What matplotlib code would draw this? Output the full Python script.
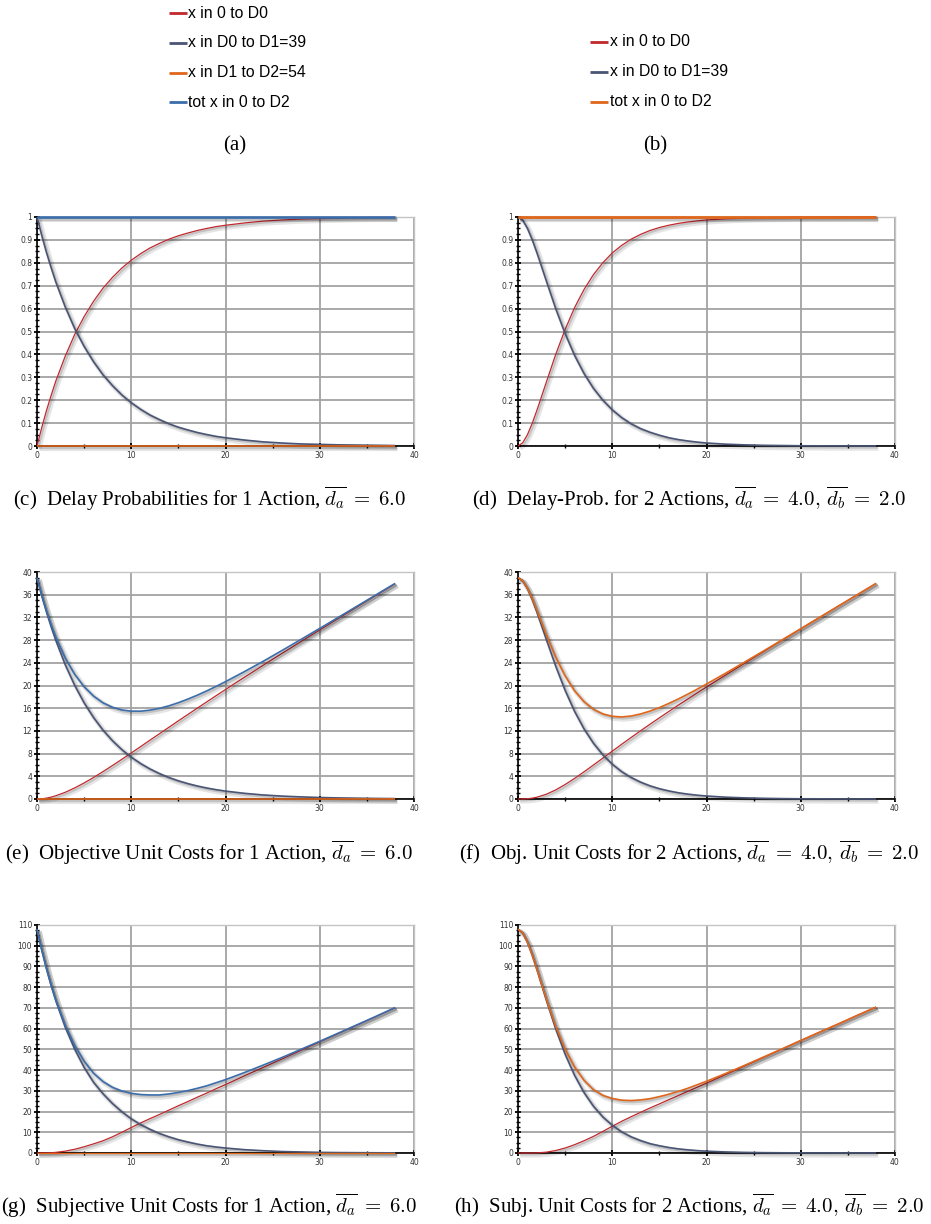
import matplotlib
matplotlib.use('Agg')
import matplotlib.pyplot as plt
from matplotlib.ticker import MultipleLocator, FuncFormatter
import matplotlib.patheffects as pe

plt.rcParams['mathtext.fontset'] = 'cm'

# ---------------- data ----------------
X = [0, 0.5, 1, 1.5, 2, 3, 4, 5, 6, 7, 8, 9, 10, 11, 12, 13, 14, 15, 16, 17, 18,
     19, 20, 22, 24, 26, 28, 30, 32, 34, 36, 38]
X_FLAT = [0, 38]

legend_a = ["x in 0 to D0", "x in D0 to D1=39", "x in D1 to D2=54", "tot x in 0 to D2"]
legend_b = ["x in 0 to D0", "x in D0 to D1=39", "tot x in 0 to D2"]

# (c) delay probabilities, 1 action
c_red = [0, .080, .154, .221, .284, .393, .487, .565, .632, .689, .736, .777, .811, .840,
         .865, .885, .903, .918, .930, .941, .950, .958, .964, .974, .982, .987, .991,
         .993, .995, .997, .998, .998]
c_slate = [1, .920, .846, .779, .716, .607, .513, .435, .368, .311, .264, .223, .189, .160,
           .135, .115, .097, .082, .070, .059, .050, .042, .036, .026, .018, .013, .009,
           .007, .005, .004, .003, .002]
c_orange = [0, 0]
c_total = [1, 1]

# (d) delay probabilities, 2 actions
d_red = [0, .014, .049, .098, .155, .278, .400, .509, .604, .683, .748, .800, .843, .876,
         .903, .924, .941, .954, .964, .972, .978, .983, .987, .992, .995, .997, .998,
         .999, .9993, .9996, .9998, .9999]
d_slate = [1, .986, .951, .902, .845, .722, .600, .491, .396, .317, .252, .200, .158, .124,
           .097, .076, .060, .047, .036, .028, .022, .017, .013, .008, .005, .003, .002,
           .001, .0007, .0004, .0002, .0001]
d_total = [1, 1]

# (e) objective unit costs, 1 action
e_red = [0, .04, .15, .33, .57, 1.18, 1.95, 2.83, 3.79, 4.82, 5.89, 6.99, 8.11, 9.24, 10.38,
         11.51, 12.64, 13.77, 14.89, 16.00, 17.10, 18.20, 19.29, 21.44, 23.56, 25.66,
         27.74, 29.80, 31.85, 33.88, 35.91, 37.93]
e_slate = [39, 35.88, 33.01, 30.37, 27.94, 23.65, 20.02, 16.95, 14.35, 12.14, 10.28, 8.70,
           7.37, 6.24, 5.28, 4.47, 3.78, 3.20, 2.71, 2.29, 1.94, 1.64, 1.39, 1.00, .71, .51,
           .37, .26, .19, .14, .10, .07]
e_orange = [0, 0]
e_total = [39, 35.92, 33.16, 30.70, 28.51, 24.83, 21.97, 19.78, 18.14, 16.96, 16.17, 15.69,
           15.48, 15.48, 15.66, 15.98, 16.42, 16.97, 17.60, 18.29, 19.04, 19.84, 20.68,
           22.44, 24.27, 26.17, 28.11, 30.06, 32.04, 34.02, 36.01, 38.00]

# (f) objective unit costs, 2 actions
f_red = [0, .007, .049, .147, .31, .835, 1.60, 2.55, 3.62, 4.78, 5.98, 7.20, 8.43, 9.64,
         10.84, 12.01, 13.17, 14.30, 15.42, 16.52, 17.60, 18.67, 19.73, 21.82, 23.88,
         25.92, 27.95, 29.97, 31.98, 33.99, 35.99, 38.00]
f_slate = [39, 38.46, 37.09, 35.19, 32.96, 28.14, 23.42, 19.15, 15.46, 12.38, 9.84, 7.79,
           6.14, 4.82, 3.79, 2.97, 2.32, 1.81, 1.42, 1.10, .86, .67, .53, .32, .20, .12,
           .07, .04, .03, .02, .01, 0]
f_total = [39, 38.47, 37.14, 35.34, 33.27, 28.98, 25.02, 21.70, 19.08, 17.16, 15.82, 14.99,
           14.57, 14.46, 14.62, 14.98, 15.49, 16.11, 16.84, 17.62, 18.46, 19.34, 20.26,
           22.14, 24.08, 26.04, 28.02, 30.01, 32.01, 34.01, 36.00, 38.00]

# (g) subjective unit costs, 1 action
g_red = [0, 0, .03, .12, .3, .9, 1.8, 3.0, 4.4, 5.9, 7.8, 10.0, 12.3, 14.5, 16.6, 18.6,
         20.7, 22.8, 24.8, 26.9, 28.9, 31.0, 33.0, 37.2, 41.3, 45.4, 49.5, 53.6, 57.7,
         61.8, 65.9, 70.1]
g_slate = [108, 98.1, 89.1, 80.9, 73.5, 60.7, 50.1, 41.3, 34.1, 28.6, 23.9, 19.9, 16.5,
           13.7, 11.4, 9.4, 7.8, 6.4, 5.3, 4.3, 3.5, 2.9, 2.4, 1.6, 1.1, .7, .5, .3, .2,
           .15, .1, .07]
g_orange = [0, 0]
g_total = [108, 98.1, 89.13, 81.02, 73.8, 61.6, 51.9, 44.3, 38.5, 34.5, 31.7, 29.9, 28.8,
           28.2, 28.0, 28.0, 28.5, 29.2, 30.1, 31.2, 32.4, 33.9, 35.4, 38.8, 42.4, 46.1,
           50.0, 53.9, 57.9, 61.95, 66.0, 70.17]

# (h) subjective unit costs, 2 actions
h_red = [0, 0, 0, 0, .05, .4, 1.2, 2.4, 4.0, 5.9, 8.0, 10.4, 12.9, 15.3, 17.5, 19.6, 21.7,
         23.7, 25.7, 27.7, 29.7, 31.7, 33.7, 37.8, 41.9, 46.0, 50.1, 54.2, 58.3, 62.3,
         66.4, 70.4]
h_slate = [108, 106.2, 101.8, 95.7, 88.7, 73.9, 59.9, 47.7, 37.5, 29.2, 22.6, 17.4, 13.4,
           10.2, 7.8, 6.0, 4.5, 3.5, 2.65, 2.0, 1.53, 1.16, .88, .51, .29, .17, .10, .06,
           .03, .02, .01, .01]
h_total = [108, 106.2, 101.8, 95.7, 88.75, 74.3, 61.1, 50.1, 41.5, 35.1, 30.6, 27.8, 26.3,
           25.5, 25.3, 25.6, 26.2, 27.2, 28.35, 29.7, 31.2, 32.9, 34.6, 38.3, 42.2, 46.2,
           50.2, 54.3, 58.3, 62.3, 66.4, 70.4]

captions = [
    r"(c)  Delay Probabilities for 1 Action, $\overline{d_a}\;=\;6.0$",
    r"(d)  Delay-Prob. for 2 Actions, $\overline{d_a}\;=\;4.0,\,\overline{d_b}\;=\;2.0$",
    r"(e)  Objective Unit Costs for 1 Action, $\overline{d_a}\;=\;6.0$",
    r"(f)  Obj. Unit Costs for 2 Actions, $\overline{d_a}\;=\;4.0,\,\overline{d_b}\;=\;2.0$",
    r"(g)  Subjective Unit Costs for 1 Action, $\overline{d_a}\;=\;6.0$",
    r"(h)  Subj. Unit Costs for 2 Actions, $\overline{d_a}\;=\;4.0,\,\overline{d_b}\;=\;2.0$",
]

# ---------------- style ----------------
RED = '#c0282d'
SLATE = '#4a5575'
ORANGE = '#df661b'
BLUE = '#3b6dab'

W, H = 931, 1224
fig = plt.figure(figsize=(W / 100, H / 100), dpi=100)


def ax_at(l, t, r, b):
    return fig.add_axes([l / W, 1 - b / H, (r - l) / W, (b - t) / H])


def shadow(lw):
    return [pe.SimpleLineShadow(offset=(1.6, -1.6), alpha=0.10, linewidth=lw + 2.5),
            pe.SimpleLineShadow(offset=(1.1, -1.1), alpha=0.15, linewidth=lw + 0.5),
            pe.Normal()]


def style(ax, ymax, ymaj, ymin):
    ax.set_xlim(0, 40)
    ax.set_ylim(0, ymax)
    ax.xaxis.set_major_locator(MultipleLocator(10))
    ax.xaxis.set_minor_locator(MultipleLocator(5))
    ax.yaxis.set_major_locator(MultipleLocator(ymaj))
    ax.yaxis.set_minor_locator(MultipleLocator(ymin))
    ax.yaxis.set_major_formatter(FuncFormatter(lambda v, p: f"{v:g}"))
    ax.set_axisbelow(True)
    ax.grid(True, which='major', color='#a2a2a2', lw=1.3)
    for s in ('left', 'bottom'):
        ax.spines[s].set_color('black')
        ax.spines[s].set_linewidth(1.2)
        ax.spines[s].set_zorder(2.8)
    for s in ('top', 'right'):
        ax.spines[s].set_color('#c4c4c4')
        ax.spines[s].set_linewidth(1.0)
    ax.tick_params(which='major', direction='inout', length=5, width=1.3, color='black',
                   labelsize=5.5, labelcolor='#333333', pad=1)
    ax.tick_params(which='minor', direction='inout', length=3, width=1.0, color='black')


def draw(ax, series):
    for xs, ys, col, lw in series:
        ax.plot(xs, ys, color=col, lw=lw, clip_on=False, solid_capstyle='butt',
                path_effects=shadow(lw), zorder=3)


cols = [(37, 414), (518, 895)]
rows = [(217, 446), (572, 799), (925, 1153)]

ax_c = ax_at(cols[0][0], rows[0][0], cols[0][1], rows[0][1])
style(ax_c, 1, 0.1, 0.025)
draw(ax_c, [(X, c_red, RED, 0.9), (X, c_slate, SLATE, 1.2),
            (X_FLAT, c_orange, ORANGE, 1.2), (X_FLAT, c_total, BLUE, 1.9)])

ax_d = ax_at(cols[1][0], rows[0][0], cols[1][1], rows[0][1])
style(ax_d, 1, 0.1, 0.025)
draw(ax_d, [(X, d_red, RED, 0.9), (X, d_slate, SLATE, 1.2), (X_FLAT, d_total, ORANGE, 2.0)])

ax_e = ax_at(cols[0][0], rows[1][0], cols[0][1], rows[1][1])
style(ax_e, 40, 4, 1)
draw(ax_e, [(X, e_red, RED, 0.9), (X, e_slate, SLATE, 1.2),
            (X_FLAT, e_orange, ORANGE, 1.2), (X, e_total, BLUE, 1.2)])

ax_f = ax_at(cols[1][0], rows[1][0], cols[1][1], rows[1][1])
style(ax_f, 40, 4, 1)
draw(ax_f, [(X, f_red, RED, 0.9), (X, f_slate, SLATE, 1.2), (X, f_total, ORANGE, 1.2)])

ax_g = ax_at(cols[0][0], rows[2][0], cols[0][1], rows[2][1])
style(ax_g, 110, 10, 2.5)
draw(ax_g, [(X, g_red, RED, 0.9), (X, g_slate, SLATE, 1.2),
            (X_FLAT, g_orange, ORANGE, 0.9), (X, g_total, BLUE, 1.2)])

ax_h = ax_at(cols[1][0], rows[2][0], cols[1][1], rows[2][1])
style(ax_h, 110, 10, 2.5)
draw(ax_h, [(X, h_red, RED, 0.9), (X, h_slate, SLATE, 1.2), (X, h_total, ORANGE, 1.2)])

# ---------------- legends (top panels a and b) ----------------
leg = fig.add_axes([0, 0, 1, 1])
leg.set_xlim(0, W)
leg.set_ylim(H, 0)
leg.axis('off')

for i, (lab, col) in enumerate(zip(legend_a, [RED, SLATE, ORANGE, BLUE])):
    y = 13 + i * 29.8
    leg.plot([169, 187], [y, y], color=col, lw=2.0, solid_capstyle='butt')
    leg.text(188.5, y, lab, fontsize=11.3, family='Liberation Sans', va='center', ha='left')

for i, (lab, col) in enumerate(zip(legend_b, [RED, SLATE, ORANGE])):
    y = 42 + i * 30
    leg.plot([590, 608], [y, y], color=col, lw=2.0, solid_capstyle='butt')
    leg.text(609.5, y, lab, fontsize=11.3, family='Liberation Sans', va='center', ha='left')

cap_kw = dict(fontsize=15, family='Liberation Serif', va='center', ha='center')
leg.text(235, 146, "(a)", **cap_kw)
leg.text(655, 146, "(b)", **cap_kw)

cap_pos = [(210, 499), (689, 499), (209, 853), (689, 853), (209, 1206), (689, 1206)]
for (cx, cy), cap in zip(cap_pos, captions):
    leg.text(cx, cy, cap, **cap_kw)

fig.savefig('out.png', dpi=100)
